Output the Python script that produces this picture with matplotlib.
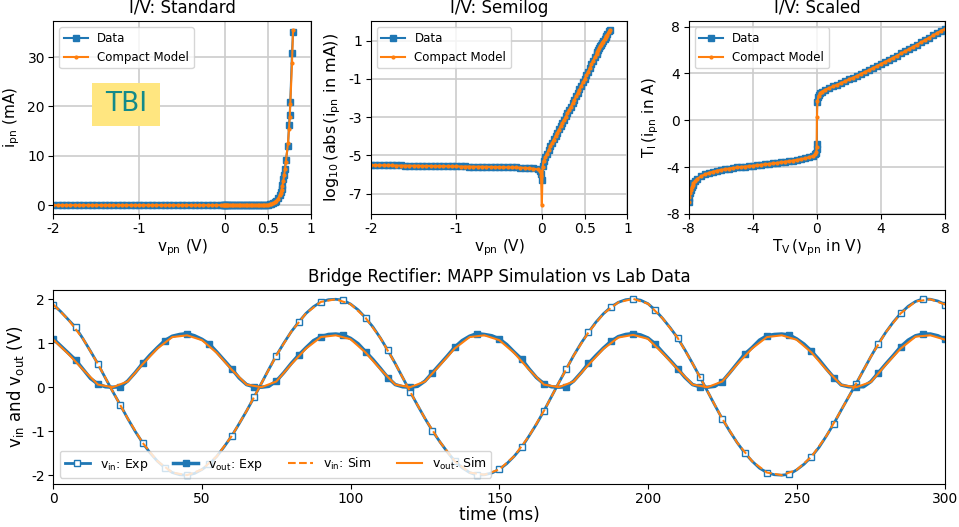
import numpy as np
import matplotlib.pyplot as plt
from matplotlib.patches import Rectangle

plt.rcParams['axes.unicode_minus'] = False
plt.rcParams['font.family'] = ['DejaVu Sans']
plt.rcParams['mathtext.fontset'] = 'dejavusans'

# ---- diode I/V data (v in V, log10|i| with i in mA) ----
v_iv = [-2.0, -1.95, -1.9, -1.85, -1.8, -1.75, -1.7, -1.65, -1.6, -1.55,
        -1.5, -1.45, -1.4, -1.35, -1.3, -1.25, -1.2, -1.15, -1.1, -1.05,
        -1.0, -0.95, -0.9, -0.85, -0.8, -0.75, -0.7, -0.65, -0.6, -0.55,
        -0.5, -0.45, -0.4, -0.35, -0.3, -0.25, -0.2, -0.15, -0.1, -0.05,
        -0.02, -0.01, 0.0,
        0.01, 0.02, 0.04, 0.06, 0.08, 0.1, 0.12, 0.14, 0.16, 0.18,
        0.2, 0.22, 0.24, 0.26, 0.28, 0.3, 0.32, 0.34, 0.36, 0.38,
        0.4, 0.42, 0.44, 0.46, 0.48, 0.5, 0.52, 0.54, 0.56, 0.58,
        0.6, 0.62, 0.64,
        0.65, 0.66, 0.67, 0.68, 0.69, 0.7, 0.71, 0.735, 0.747, 0.755,
        0.762, 0.782, 0.794]

log_i_data = [-5.50, -5.50, -5.51, -5.51, -5.51, -5.52, -5.52, -5.52, -5.53, -5.53,
              -5.53, -5.54, -5.54, -5.54, -5.55, -5.55, -5.55, -5.56, -5.56, -5.56,
              -5.57, -5.57, -5.57, -5.58, -5.58, -5.58, -5.59, -5.59, -5.60, -5.60,
              -5.61, -5.61, -5.62, -5.62, -5.63, -5.64, -5.65, -5.66, -5.68, -5.72,
              -5.80, -5.95, -6.30,
              -5.55, -5.28, -5.08, -4.90, -4.71, -4.52, -4.34, -4.16, -3.98, -3.81,
              -3.64, -3.47, -3.30, -3.13, -2.96, -2.80, -2.63, -2.45, -2.27, -2.09,
              -1.91, -1.73, -1.55, -1.37, -1.19, -1.00, -0.81, -0.62, -0.43, -0.24,
              -0.05, 0.14, 0.32,
              0.42, 0.51, 0.62, 0.72, 0.79, 0.87, 0.96, 1.08, 1.21, 1.26,
              1.32, 1.49, 1.544]

log_i_model = [-5.51, -5.51, -5.51, -5.52, -5.52, -5.52, -5.53, -5.53, -5.53, -5.54,
               -5.54, -5.54, -5.55, -5.55, -5.55, -5.56, -5.56, -5.56, -5.57, -5.57,
               -5.57, -5.58, -5.58, -5.58, -5.59, -5.59, -5.59, -5.60, -5.60, -5.61,
               -5.61, -5.62, -5.62, -5.63, -5.63, -5.64, -5.65, -5.67, -5.69, -5.73,
               -5.82, -6.05, -7.60,
               -5.60, -5.30, -5.10, -4.91, -4.72, -4.53, -4.35, -4.17, -3.99, -3.82,
               -3.65, -3.48, -3.31, -3.14, -2.97, -2.80, -2.63, -2.46, -2.28, -2.10,
               -1.92, -1.74, -1.56, -1.38, -1.19, -1.01, -0.82, -0.63, -0.44, -0.25,
               -0.06, 0.13, 0.31,
               0.41, 0.50, 0.60, 0.69, 0.78, 0.86, 0.94, 1.10, 1.19, 1.25,
               1.31, 1.46, 1.55]

# ---- scaled I/V (T_V, T_I) ----
tv_data = [-8.0, -7.95, -7.9, -7.85, -7.8, -7.75, -7.7, -7.6, -7.5, -7.25,
           -7.0, -6.75, -6.5, -6.25, -6.0, -5.75, -5.5, -5.25, -5.0, -4.75,
           -4.5, -4.25, -4.0, -3.75, -3.5, -3.25, -3.0, -2.75, -2.5, -2.25,
           -2.0, -1.75, -1.5, -1.25, -1.0, -0.75, -0.5, -0.25, -0.1, -0.05,
           0.0, 0.0, 0.0, 0.05, 0.1, 0.2, 0.3, 0.5, 0.75, 1.0,
           1.25, 1.5, 1.75, 2.0, 2.25, 2.5, 2.75, 3.0, 3.25, 3.5,
           3.75, 4.0, 4.25, 4.5, 4.75, 5.0, 5.25, 5.5, 5.75, 6.0,
           6.25, 6.5, 6.75, 7.0, 7.25, 7.5, 7.75, 8.0]
ti_data = [-7.00, -6.60, -6.25, -5.95, -5.72, -5.52, -5.38, -5.18, -5.04, -4.80,
           -4.63, -4.50, -4.40, -4.31, -4.24, -4.18, -4.12, -4.07, -4.03, -3.99,
           -3.95, -3.92, -3.88, -3.84, -3.80, -3.76, -3.72, -3.68, -3.64, -3.59,
           -3.54, -3.49, -3.44, -3.38, -3.32, -3.25, -3.16, -3.04, -2.92, -2.80,
           -2.45, -2.05, 1.55, 1.95, 2.15, 2.33, 2.45, 2.60, 2.74, 2.89,
           3.03, 3.18, 3.33, 3.49, 3.64, 3.80, 3.96, 4.13, 4.29, 4.46,
           4.63, 4.81, 4.98, 5.16, 5.34, 5.52, 5.71, 5.89, 6.08, 6.27,
           6.46, 6.66, 6.85, 7.05, 7.25, 7.45, 7.65, 7.80]

tv_model = [-8.0, -7.95, -7.9, -7.85, -7.8, -7.75, -7.7, -7.6, -7.5, -7.25,
            -7.0, -6.75, -6.5, -6.25, -6.0, -5.75, -5.5, -5.25, -5.0, -4.75,
            -4.5, -4.25, -4.0, -3.75, -3.5, -3.25, -3.0, -2.75, -2.5, -2.25,
            -2.0, -1.75, -1.5, -1.25, -1.0, -0.75, -0.5, -0.25, -0.1, -0.05,
            -0.02, 0.0, 0.03, 0.1, 0.2, 0.3, 0.5, 0.75, 1.0,
            1.25, 1.5, 1.75, 2.0, 2.25, 2.5, 2.75, 3.0, 3.25, 3.5,
            3.75, 4.0, 4.25, 4.5, 4.75, 5.0, 5.25, 5.5, 5.75, 6.0,
            6.25, 6.5, 6.75, 7.0, 7.25, 7.5, 7.75, 8.0]
ti_model = [-6.95, -6.55, -6.20, -5.92, -5.70, -5.52, -5.38, -5.18, -5.04, -4.80,
            -4.63, -4.50, -4.40, -4.31, -4.24, -4.18, -4.12, -4.07, -4.03, -3.99,
            -3.95, -3.92, -3.88, -3.84, -3.80, -3.76, -3.72, -3.68, -3.64, -3.59,
            -3.54, -3.49, -3.44, -3.38, -3.32, -3.25, -3.16, -3.04, -2.92, -2.75,
            -2.30, 0.30, 1.60, 2.10, 2.30, 2.44, 2.60, 2.74, 2.89,
            3.03, 3.18, 3.33, 3.49, 3.64, 3.80, 3.96, 4.13, 4.29, 4.46,
            4.63, 4.81, 4.98, 5.16, 5.34, 5.52, 5.71, 5.89, 6.08, 6.27,
            6.46, 6.66, 6.85, 7.05, 7.25, 7.45, 7.65, 7.80]

# ---- bridge rectifier: lab data (every 2.5 ms), simulation (every 5 ms) ----
vin_exp = [1.88, 1.72, 1.54, 1.36, 1.10, 0.82, 0.53, 0.21, -0.10, -0.40,
           -0.71, -1.00, -1.26, -1.49, -1.68, -1.83, -1.94, -1.99, -2.00, -1.96,
           -1.87, -1.75, -1.57, -1.35, -1.11, -0.83, -0.54, -0.23, 0.09, 0.41,
           0.72, 1.00, 1.26, 1.48, 1.68, 1.83, 1.94, 1.99, 2.00, 1.98,
           1.89, 1.76, 1.58, 1.37, 1.12, 0.84, 0.54, 0.22, -0.10, -0.41,
           -0.71, -0.99, -1.24, -1.47, -1.68, -1.83, -1.94, -2.00, -1.99, -1.95,
           -1.87, -1.74, -1.57, -1.37, -1.11, -0.84, -0.54, -0.22, 0.10, 0.41,
           0.72, 1.00, 1.25, 1.48, 1.67, 1.82, 1.93, 1.99, 2.01, 1.98,
           1.90, 1.75, 1.56, 1.35, 1.12, 0.84, 0.54, 0.23, -0.09, -0.41,
           -0.72, -1.00, -1.26, -1.49, -1.68, -1.84, -1.94, -1.99, -2.00, -1.98,
           -1.88, -1.75, -1.58, -1.37, -1.11, -0.83, -0.52, -0.22, 0.08, 0.39,
           0.70, 0.99, 1.25, 1.48, 1.68, 1.84, 1.95, 2.01, 2.00, 1.96, 1.88]
vout_exp = [1.10, 0.94, 0.78, 0.62, 0.41, 0.20, 0.07, 0.01, 0.00, 0.01,
            0.14, 0.33, 0.54, 0.73, 0.90, 1.06, 1.16, 1.20, 1.22, 1.17,
            1.09, 0.98, 0.80, 0.61, 0.42, 0.21, 0.06, 0.01, 0.00, 0.02,
            0.14, 0.33, 0.54, 0.73, 0.90, 1.06, 1.15, 1.20, 1.21, 1.19,
            1.11, 0.99, 0.81, 0.63, 0.43, 0.22, 0.06, 0.01, 0.00, 0.02,
            0.14, 0.33, 0.52, 0.71, 0.91, 1.06, 1.16, 1.22, 1.20, 1.17,
            1.10, 0.97, 0.80, 0.64, 0.42, 0.22, 0.08, 0.01, 0.00, 0.01,
            0.14, 0.33, 0.54, 0.72, 0.89, 1.04, 1.15, 1.20, 1.22, 1.19,
            1.12, 0.98, 0.79, 0.61, 0.42, 0.22, 0.06, 0.01, 0.00, 0.02,
            0.13, 0.33, 0.54, 0.75, 0.90, 1.07, 1.17, 1.20, 1.21, 1.19,
            1.10, 0.98, 0.82, 0.63, 0.42, 0.22, 0.05, 0.01, 0.01, 0.01,
            0.13, 0.33, 0.53, 0.72, 0.92, 1.07, 1.17, 1.21, 1.21, 1.17, 1.09]

vin_sim = [1.88, 1.54, 1.10, 0.53, -0.10, -0.71, -1.26, -1.68, -1.94, -2.00,
           -1.87, -1.57, -1.11, -0.54, 0.09, 0.72, 1.26, 1.68, 1.94, 2.00,
           1.89, 1.58, 1.12, 0.54, -0.10, -0.71, -1.24, -1.68, -1.94, -1.99,
           -1.87, -1.57, -1.11, -0.54, 0.10, 0.72, 1.25, 1.67, 1.93, 2.01,
           1.90, 1.56, 1.12, 0.54, -0.09, -0.72, -1.26, -1.68, -1.94, -2.00,
           -1.88, -1.58, -1.11, -0.52, 0.08, 0.70, 1.25, 1.68, 1.95, 2.00, 1.88]
vout_sim = [1.08, 0.76, 0.40, 0.06, 0.00, 0.13, 0.52, 0.88, 1.14, 1.18,
            1.07, 0.78, 0.40, 0.06, 0.00, 0.13, 0.52, 0.88, 1.14, 1.18,
            1.09, 0.79, 0.41, 0.06, 0.00, 0.13, 0.50, 0.88, 1.14, 1.18,
            1.07, 0.78, 0.40, 0.06, 0.00, 0.13, 0.51, 0.87, 1.13, 1.19,
            1.10, 0.77, 0.41, 0.06, 0.00, 0.13, 0.52, 0.88, 1.14, 1.18,
            1.08, 0.79, 0.40, 0.05, 0.00, 0.12, 0.51, 0.88, 1.15, 1.18, 1.08]

v_iv = np.array(v_iv)
sign = np.where(v_iv <= 0, -1.0, 1.0)
i_data = sign * 10 ** np.array(log_i_data)
i_model = sign * 10 ** np.array(log_i_model)
t_exp = np.linspace(0, 300, len(vin_exp))
t_sim = np.linspace(0, 300, len(vin_sim))

blue = '#1f77b4'
orange = '#ff7f0e'

fig = plt.figure(figsize=(9.59, 5.27), dpi=100)
ax1 = fig.add_axes([0.0556, 0.594, 0.2684, 0.3657])
ax2 = fig.add_axes([0.3866, 0.594, 0.2676, 0.3657])
ax3 = fig.add_axes([0.7181, 0.594, 0.2676, 0.3657])
ax4 = fig.add_axes([0.0556, 0.0816, 0.9301, 0.3681])

dkw = dict(color=blue, marker='s', ms=4.5, lw=1.5, label='Data')
mkw = dict(color=orange, marker='.', ms=4, lw=1.5, label='Compact Model')

# standard
ax1.plot(v_iv, i_data, **dkw)
ax1.plot(v_iv, i_model, **mkw)
ax1.set_xlim(-2, 1)
ax1.set_xticks([-2, -1, 0, 0.5, 1])
ax1.set_xticklabels(['-2', '-1', '0', '0.5', '1'])
ax1.set_yticks([0, 10, 20, 30])
ax1.set_title('I/V: Standard', fontsize=12)
ax1.set_xlabel(r'$\mathrm{v_{pn}}$ (V)', fontsize=11, labelpad=1)
ax1.set_ylabel(r'$\mathrm{i_{pn}}$ (mA)', fontsize=11)
ax1.add_patch(Rectangle((0.150, 0.457), 0.264, 0.223, transform=ax1.transAxes,
                        fc='#ffe680', ec='none', zorder=4))
ax1.text(0.282, 0.568, 'TBI', transform=ax1.transAxes, fontsize=19,
         color='#138a8a', ha='center', va='center', zorder=5)

# semilog
ax2.plot(v_iv, log_i_data, **dkw)
ax2.plot(v_iv, log_i_model, **mkw)
ax2.set_xlim(-2, 1)
ax2.set_xticks([-2, -1, 0, 0.5, 1])
ax2.set_xticklabels(['-2', '-1', '0', '0.5', '1'])
ax2.set_yticks([-7, -5, -3, -1, 1])
ax2.set_title('I/V: Semilog', fontsize=12)
ax2.set_xlabel(r'$\mathrm{v_{pn}}$ (V)', fontsize=11, labelpad=1)
ax2.set_ylabel(r'$\mathrm{log_{10}\,(abs\,(i_{pn}\ in\ mA))}$', fontsize=11.5)

# scaled
ax3.plot(tv_data, ti_data, **dkw)
ax3.plot(tv_model, ti_model, **mkw)
ax3.set_xlim(-8, 8)
ax3.set_ylim(-8, 8.45)
ax3.set_xticks([-8, -4, 0, 4, 8])
ax3.set_yticks([-8, -4, 0, 4, 8])
ax3.set_title('I/V: Scaled', fontsize=12)
ax3.set_xlabel(r'$\mathrm{T_V\,(v_{pn}\ in\ V)}$', fontsize=11, labelpad=1)
ax3.set_ylabel(r'$\mathrm{T_I\,(i_{pn}\ in\ A)}$', fontsize=11)

for ax in (ax1, ax2, ax3):
    ax.grid(True, color='#cccccc', lw=1.2)
    ax.set_axisbelow(True)
    ax.tick_params(labelsize=10, pad=2.5)
    ax.legend(loc='upper left', fontsize=8.5)

# bridge rectifier
ax4.plot(t_exp, vin_exp, color=blue, lw=2, marker='s', ms=4.5, mfc='white',
         mew=1, markevery=3, label=r'$\mathrm{v_{in}}$: Exp')
ax4.plot(t_exp, vout_exp, color=blue, lw=2.5, marker='s', ms=4.5,
         markevery=3, label=r'$\mathrm{v_{out}}$: Exp')
ax4.plot(t_sim, vin_sim, color=orange, lw=1.5, ls='--', label=r'$\mathrm{v_{in}}$: Sim')
ax4.plot(t_sim, vout_sim, color=orange, lw=1.5, label=r'$\mathrm{v_{out}}$: Sim')
ax4.set_xlim(0, 300)
ax4.set_yticks([-2, -1, 0, 1, 2])
ax4.tick_params(labelsize=10, pad=2.5)
ax4.set_title('Bridge Rectifier: MAPP Simulation vs Lab Data', fontsize=12)
ax4.set_xlabel('time (ms)', fontsize=12, labelpad=0)
ax4.set_ylabel(r'$\mathrm{v_{in}}$ and $\mathrm{v_{out}}$ (V)', fontsize=12)
ax4.legend(loc='lower left', ncol=4, fontsize=9)

fig.savefig('out.png', dpi=100)
